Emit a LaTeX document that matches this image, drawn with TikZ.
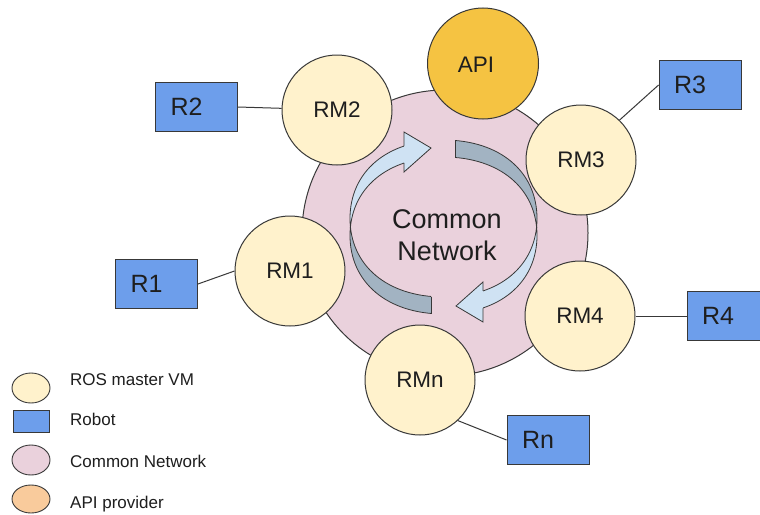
\documentclass[tikz,border=0pt]{standalone}
\usepackage{fontspec}
\setmainfont{Liberation Sans}
\usetikzlibrary{shapes.geometric}

\definecolor{linec}{HTML}{383838}
\definecolor{textc}{HTML}{1E1E1E}
\definecolor{netfill}{HTML}{EAD1DC}
\definecolor{rmfill}{HTML}{FFF2CC}
\definecolor{apifill}{HTML}{F5C342}
\definecolor{robotfill}{HTML}{6D9EEB}
\definecolor{apilegend}{HTML}{F9CB9C}
\definecolor{ribbonlight}{HTML}{CFE2F3}
\definecolor{ribbondark}{HTML}{A2B3C2}

% the two edges of the twisted cycle ribbon
\def\edgeA{(443.5,140) .. controls (499.6,140) and (537,171.4) .. (537,218.5)
  .. controls (537,265.6) and (499.6,297) .. (443.5,297)
  .. controls (387.4,297) and (350,265.6) .. (350,218.5)
  .. controls (350,171.4) and (387.4,140) .. cycle}
\def\edgeB{(443.5,157) .. controls (499.6,157) and (537,188.4) .. (537,235.5)
  .. controls (537,282.6) and (499.6,314) .. (443.5,314)
  .. controls (387.4,314) and (350,282.6) .. (350,235.5)
  .. controls (350,188.4) and (387.4,157) .. cycle}

\begin{document}
\begin{tikzpicture}[x=1pt,y=-1pt,
  rm/.style={circle, draw=linec, line width=1pt, fill=rmfill, minimum size=110pt,
    inner sep=0pt, text=textc, font=\fontsize{22.5}{27}\selectfont},
  apinode/.style={rm, fill=apifill, minimum size=111pt},
  robot/.style={rectangle, draw=linec, line width=0.9pt, fill=robotfill,
    minimum width=82pt, minimum height=49pt, inner sep=0pt},
  rlabel/.style={text=textc, font=\fontsize{25}{30}\selectfont, inner sep=0pt},
  link/.style={draw=linec, line width=1pt},
  ribbonline/.style={draw=linec, line width=0.8pt},
  legtext/.style={anchor=base west, inner sep=0pt, text=textc,
    font=\fontsize{17}{20}\selectfont},
  legshape/.style={ellipse, draw=linec, line width=0.9pt, minimum width=38pt,
    minimum height=30pt, inner sep=0pt},
]
\useasboundingbox[fill=white] (0,0) rectangle (760,514);

% common network
\node[circle, draw=linec, line width=1pt, fill=netfill, minimum size=286pt,
  inner sep=0pt] (net) at (445,233) {};

% cycle arrows: right half (dark start, light end with head)
\begin{scope}
  \clip (455,100) rectangle (545,227);
  \fill[ribbondark, even odd rule] \edgeA \edgeB;
  \draw[ribbonline] \edgeA \edgeB;
\end{scope}
\draw[ribbonline] (455,140.4) -- (455,157.4);
\filldraw[fill=ribbonlight, ribbonline, line join=miter]
  (483,282) -- (456,306) -- (483,322) -- cycle;
\begin{scope}
  \clip (479,227) rectangle (545,330);
  \fill[ribbonlight, even odd rule] \edgeA \edgeB;
\end{scope}
\begin{scope}
  \clip (483,227) rectangle (545,330);
  \draw[ribbonline] \edgeA \edgeB;
\end{scope}

% cycle arrows: left half
\begin{scope}
  \clip (340,227) rectangle (431,330);
  \fill[ribbondark, even odd rule] \edgeA \edgeB;
  \draw[ribbonline] \edgeA \edgeB;
\end{scope}
\draw[ribbonline] (431,296.6) -- (431,313.6);
\filldraw[fill=ribbonlight, ribbonline, line join=miter]
  (404,172) -- (431,148) -- (404,132) -- cycle;
\begin{scope}
  \clip (340,100) rectangle (408,227);
  \fill[ribbonlight, even odd rule] \edgeA \edgeB;
\end{scope}
\begin{scope}
  \clip (340,100) rectangle (404,227);
  \draw[ribbonline] \edgeA \edgeB;
\end{scope}

\node[align=center, text=textc, inner sep=0pt,
  font=\fontsize{27}{32}\selectfont] (netlabel) at (447,235.5) {Common\\Network};

% API provider and ROS master VMs
\node[apinode] (api) at (483,63.5) {};
\node[text=textc, font=\fontsize{22.5}{27}\selectfont, inner sep=0pt]
  (apilabel) at (476,65) {API};
\node[rm] (RM1) at (290,271) {RM1};
\node[rm] (RM2) at (337,110) {RM2};
\node[rm] (RM3) at (581,160) {RM3};
\node[rm] (RM4) at (580,316) {RM4};
\node[rm] (RMn) at (420,380) {RMn};

% robots
\node[robot] (R1) at (156.5,284) {};
\node[robot] (R2) at (196.5,107) {};
\node[robot] (R3) at (700,85) {};
\node[robot] (R4) at (728,316) {};
\node[robot] (Rn) at (548,440) {};
\node[rlabel] (R1t) at ([xshift=-10pt]R1.center) {R1};
\node[rlabel] (R2t) at ([xshift=-10pt]R2.center) {R2};
\node[rlabel] (R3t) at ([xshift=-10pt]R3.center) {R3};
\node[rlabel] (R4t) at ([xshift=-10pt]R4.center) {R4};
\node[rlabel] (Rnt) at ([xshift=-10pt]Rn.center) {Rn};

% robot to master links
\draw[link] (R1.east) -- (RM1.west);
\draw[link] (R2.east) -- (RM2);
\draw[link] (RM3.46) -- (R3.west);
\draw[link] (RM4) -- (R4.west);
\draw[link] (RMn.-47) -- (Rn.west);

% legend
\node[legshape, fill=rmfill] (kRM) at (31,388) {};
\node[rectangle, draw=linec, line width=0.9pt, fill=robotfill, minimum width=36pt,
  minimum height=22pt, inner sep=0pt] (kR) at (31,421) {};
\node[legshape, fill=netfill] (kNet) at (31,460) {};
\node[legshape, fill=apilegend, minimum height=28pt] (kAPI) at (31,499) {};
\node[legtext] (tRM) at (70,385) {ROS master VM};
\node[legtext] (tR) at (70,425) {Robot};
\node[legtext] (tNet) at (70,467) {Common Network};
\node[legtext] (tAPI) at (70,508) {API provider};
\end{tikzpicture}
\end{document}
